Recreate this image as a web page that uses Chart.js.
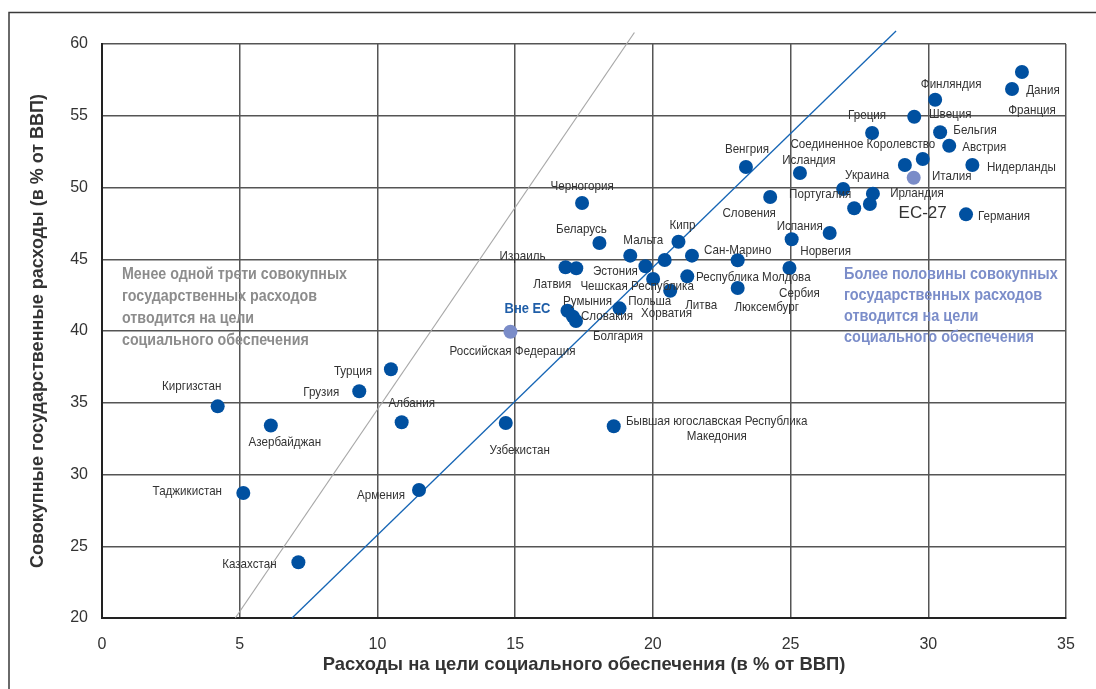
<!DOCTYPE html>
<html><head><meta charset="utf-8">
<script src="https://cdn.jsdelivr.net/npm/chart.js@4"></script>
<style>html,body{margin:0;padding:0;background:#fff;overflow:hidden}#wrap{width:1096px;height:689px;position:relative}</style>
</head><body><div id="wrap"><canvas id="c" width="1096" height="689"></canvas></div>
<script>
// ---- DATA ----
const countries = ['Дания','Франция','Финляндия','Швеция','Греция','Бельгия','Австрия','Италия','Соединенное Королевство','Нидерланды',
 'ЕС-27','Германия','Ирландия','','Украина','Португалия','Исландия','Венгрия','Словения','Норвегия',
 'Испания','Сербия','Сан-Марино','Люксембург','Республика Молдова','Литва','','Кипр','Мальта','Эстония',
 'Чешская Республика','Польша','Хорватия','Израиль','Латвия','Румыния','Словакия','Болгария','Черногория','Беларусь',
 'Российская Федерация','Узбекистан','Бывшая югославская Республика\nМакедония','Турция','Грузия','Киргизстан','Азербайджан','Албания','Таджикистан','Армения','Казахстан'];
const socialSpending = [33.40,33.04,30.25,29.49,27.96,30.43,30.76,29.80,29.15,31.60,
 29.47,31.37,27.99,27.88,26.91,27.31,25.34,23.38,24.26,26.42,
 25.04,24.96,23.08,23.08,21.25,20.63,21.42,20.93,19.18,19.73,
 20.01,20.43,18.79,16.83,17.22,16.90,17.10,17.21,17.43,18.06,
 14.83,14.66,18.58,10.49,9.34,4.20,6.13,10.88,5.13,11.51,7.13];
const totalSpending = [58.05,56.86,56.12,54.93,53.80,53.85,52.91,51.99,51.57,51.57,
 50.68,48.13,49.57,48.85,49.90,48.55,51.01,51.43,49.34,46.83,
 46.39,44.39,44.93,43.00,43.81,42.81,45.25,46.22,45.25,44.51,
 43.62,44.95,41.58,44.44,44.37,41.41,41.00,40.70,48.92,46.13,
 39.95,33.59,33.36,37.33,35.80,34.75,33.41,33.64,28.71,28.92,23.88];
const aggregates = ['ЕС-27','Российская Федерация'];
const lessThanThirdLine = [{x:4.84,y:20},{x:19.33,y:60.8}];
const moreThanHalfLine = [{x:6.90,y:20},{x:28.83,y:60.9}];
const xTicks = [0,5,10,15,20,25,30,35];
const yTicks = [20,25,30,35,40,45,50,55,60];
const xTitle = 'Расходы на цели социального обеспечения (в % от ВВП)';
const yTitle = 'Совокупные государственные расходы (в % от ВВП)';
const leftNote = ['Менее одной трети совокупных','государственных расходов','отводится на цели','социального обеспечения'];
const rightNote = ['Более половины совокупных','государственных расходов','отводится на цели','социального обеспечения'];
const outsideEU = 'Вне ЕС';

// ---- LABEL LAYOUT (pixel offsets from each point) ----
const labelDx = [21,20,16,36,-5,35,35,29,-42,49, 9,38,44,0,24,-34,9,1,-21,-4, 8,10,0,29,66,31,0,4,13,-30, -16,-15,47,-43,-24,20,34,42,0,-18, 2,14,103,-38,-38,-26,14,10,-56,-38,-49];
const labelDy = [18,21,-15,-2,-18,-2,2,17,-21,2, 36,2,0,0,-14,-14,-13,-18,16,18, -13,25,-10,19,1,15,0,-16,-15,5, 7,41,5,-11,16,-9,0,15,-17,-14, 20,27,2.5,2,1,-20,17,-19,-2,5,2];

const points = socialSpending.map((v,i)=>({x:v,y:totalSpending[i]}));
const colors = countries.map(c => aggregates.includes(c) ? '#7a8cc8' : '#0050a0');

const SANS = "'Liberation Sans',Arial,sans-serif";

function condensedText(ctx, text, x, y, sx){
  ctx.save();
  ctx.translate(x, y);
  ctx.scale(sx, 1);
  ctx.fillText(text, 0, 0);
  ctx.restore();
}

const framePlugin = {
  id:'frame',
  beforeDraw(chart){
    const ctx = chart.ctx;
    ctx.save();
    ctx.fillStyle='#fff'; ctx.fillRect(0,0,chart.width,chart.height);
    ctx.strokeStyle='#3a3a3a'; ctx.lineWidth=1.5;
    ctx.beginPath(); ctx.moveTo(9,chart.height+2); ctx.lineTo(9,12.5); ctx.lineTo(chart.width+2,12.5); ctx.stroke();
    ctx.restore();
  }
};

const labelPlugin = {
  id:'labels',
  afterDatasetsDraw(chart){
    const ctx = chart.ctx;
    const meta = chart.getDatasetMeta(0);
    const area = chart.chartArea;
    ctx.save();
    ctx.textAlign='center'; ctx.textBaseline='middle';
    countries.forEach((name,i)=>{
      if(!name) return;
      const el = meta.data[i];
      const lines = name.split('\n');
      let sx = 0.86;
      if(name==='ЕС-27'){ ctx.font = "17px "+SANS; ctx.fillStyle='#333'; sx = 1; }
      else { ctx.font = "13.5px "+SANS; ctx.fillStyle='#333'; }
      const lh = 15;
      lines.forEach((ln,k)=>{
        const yy = el.y + labelDy[i] + (k-(lines.length-1)/2)*lh;
        condensedText(ctx, ln, el.x + labelDx[i], yy, sx);
      });
      if(name==='Российская Федерация'){
        ctx.font = "bold 15px "+SANS; ctx.fillStyle='#1f5ea8';
        condensedText(ctx, outsideEU, el.x+17, el.y-23, 0.86);
      }
    });
    // notes
    ctx.textAlign='left';
    ctx.font = "bold 16px "+SANS;
    ctx.fillStyle='#8c8c8c';
    leftNote.forEach((t,k)=>condensedText(ctx, t, area.left+20, area.top+231+k*21.7, 0.89));
    ctx.fillStyle='#7b8dc9';
    rightNote.forEach((t,k)=>condensedText(ctx, t, area.left+742, area.top+231+k*21, 0.905));
    ctx.restore();
  }
};

new Chart(document.getElementById('c'), {
  type:'scatter',
  data:{datasets:[
    {label:'Страны', data:points, pointRadius:7, pointHoverRadius:7, backgroundColor:colors, borderWidth:0, order:0},
    {type:'line', label:'1/3', data:lessThanThirdLine, borderColor:'#a8a8a8', borderWidth:1.2, pointRadius:0, fill:false, clip:false, order:1},
    {type:'line', label:'1/2', data:moreThanHalfLine, borderColor:'#1565b5', borderWidth:1.3, pointRadius:0, fill:false, clip:false, order:2}
  ]},
  options:{
    responsive:false, animation:false,
    layout:{padding:{left:0,right:30,top:44,bottom:0}},
    plugins:{legend:{display:false}, tooltip:{enabled:false}},
    scales:{
      x:{type:'linear', min:0, max:35,
        afterBuildTicks(s){ s.ticks = xTicks.map(v=>({value:v})); },
        ticks:{font:{size:16,family:SANS}, color:'#333', padding:17},
        grid:{color:'#555', lineWidth:1.5, drawTicks:false},
        border:{color:'#222', width:2},
        title:{display:true, text:xTitle, font:{size:18.4,weight:'bold',family:SANS}, color:'#333', padding:{top:0,bottom:13}},
        afterFit(s){ s.height = 71; }
      },
      y:{type:'linear', min:20, max:60,
        afterBuildTicks(s){ s.ticks = yTicks.map(v=>({value:v})); },
        ticks:{font:{size:16,family:SANS}, color:'#333', padding:14},
        grid:{color:'#555', lineWidth:1.5, drawTicks:false},
        border:{color:'#222', width:2},
        title:{display:true, text:yTitle, font:{size:18,weight:'bold',family:SANS}, color:'#333', padding:{top:27,bottom:0}},
        afterFit(s){ s.width = 102; }
      }
    }
  },
  plugins:[framePlugin, labelPlugin]
});
</script></body></html>
